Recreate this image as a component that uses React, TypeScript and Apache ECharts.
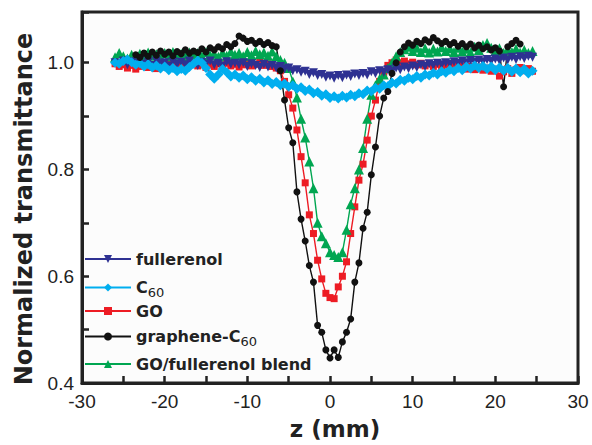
import React, { useEffect, useRef } from "react";
import * as echarts from "echarts";

// z positions (mm): -26 to 24.5, step 0.5
const zValues: number[] = Array.from({ length: 102 }, (_, i) => -26 + i * 0.5);

const fullerenol = [
  1.000, 0.998, 1.003, 0.996, 1.002, 0.999, 1.004, 0.997, 1.001, 0.995,
  1.003, 0.998, 1.000, 0.994, 1.002, 0.997, 1.001, 0.996, 1.003, 0.998,
  0.995, 1.001, 0.997, 1.003, 0.996, 0.999, 0.994, 1.002, 0.997, 0.999,
  0.996, 1.000, 0.993, 0.998, 0.995, 0.991, 0.997, 0.992, 0.995, 0.990,
  0.993, 0.988, 0.990, 0.985, 0.987, 0.982, 0.984, 0.978, 0.981, 0.976,
  0.978, 0.973, 0.975, 0.971, 0.976, 0.972, 0.977, 0.974, 0.979, 0.976,
  0.980, 0.977, 0.983, 0.980, 0.985, 0.982, 0.987, 0.984, 0.990, 0.987,
  0.992, 0.989, 0.994, 0.991, 0.996, 0.993, 0.998, 0.995, 0.999, 0.996,
  1.000, 0.997, 1.002, 0.999, 1.003, 1.000, 1.004, 1.001, 1.005, 1.002,
  1.006, 1.003, 1.007, 1.004, 1.009, 1.005, 1.010, 1.006, 1.011, 1.008,
  1.012, 1.010,
];

const c60 = [
  1.000, 0.998, 1.003, 1.006, 1.001, 0.996, 0.999, 0.993, 0.997, 0.991,
  0.995, 0.989, 0.993, 0.986, 0.990, 0.984, 0.988, 0.985, 0.992, 0.998,
  1.004, 1.000, 0.990, 0.978, 0.970, 0.978, 0.988, 0.982, 0.974, 0.978,
  0.972, 0.976, 0.969, 0.973, 0.966, 0.970, 0.963, 0.967, 0.960, 0.964,
  0.958, 0.961, 0.955, 0.958, 0.951, 0.954, 0.947, 0.950, 0.943, 0.945,
  0.938, 0.941, 0.934, 0.937, 0.933, 0.938, 0.935, 0.940, 0.937, 0.943,
  0.941, 0.948, 0.946, 0.953, 0.951, 0.958, 0.956, 0.963, 0.961, 0.968,
  0.966, 0.972, 0.969, 0.975, 0.972, 0.978, 0.976, 0.981, 0.978, 0.984,
  0.981, 0.987, 0.984, 0.990, 0.986, 0.993, 0.989, 0.995, 0.990, 0.994,
  0.988, 0.993, 0.986, 0.991, 0.985, 0.990, 0.983, 0.989, 0.982, 0.988,
  0.980, 0.985,
];

const go = [
  0.998, 0.993, 0.996, 0.990, 0.995, 0.988, 0.993, 0.996, 0.991, 0.994,
  0.989, 0.995, 0.992, 0.997, 0.990, 0.994, 0.998, 0.992, 0.996, 0.999,
  0.994, 0.997, 0.991, 0.996, 0.993, 0.998, 0.995, 0.999, 0.994, 0.997,
  0.992, 0.996, 0.999, 0.994, 0.997, 1.001, 0.995, 0.998, 0.993, 0.990,
  0.985, 0.965, 0.940, 0.915, 0.874, 0.824, 0.775, 0.715, 0.680, 0.630,
  0.595, 0.568, 0.560, 0.558, 0.580, 0.600, 0.627, 0.680, 0.730, 0.780,
  0.810, 0.855, 0.900, 0.930, 0.965, 0.982, 0.995, 1.000, 1.005, 1.000,
  1.003, 0.998, 1.001, 0.996, 0.999, 0.994, 0.998, 0.993, 0.997, 0.992,
  0.996, 0.991, 0.995, 0.990, 0.994, 0.988, 0.993, 0.987, 0.992, 0.986,
  0.990, 0.984, 0.988, 0.975, 0.983, 0.989, 0.980, 0.987, 0.991, 0.985,
  0.989, 0.984,
];

const grapheneC60: (number | null)[] = [
  null, null, null, null, null, 1.015, 1.010, 1.018, 1.012, 1.020,
  1.014, 1.022, 1.016, 1.020, 1.013, 1.021, 1.017, 1.024, 1.018, 1.022,
  1.019, 1.026, 1.020, 1.028, 1.024, 1.030, 1.026, 1.034, 1.030, 1.036,
  1.050, 1.046, 1.040, 1.042, 1.036, 1.040, 1.034, 1.038, 1.032, 1.030,
  0.985, 0.930, 0.878, 0.850, 0.758, 0.707, 0.666, 0.620, 0.589, 0.508,
  0.495, 0.462, 0.447, 0.462, 0.448, 0.477, 0.495, 0.520, 0.589, 0.625,
  0.690, 0.720, 0.790, 0.842, 0.900, 0.934, 0.946, 0.980, 1.000, 1.020,
  1.030, 1.037, 1.033, 1.040, 1.036, 1.043, 1.039, 1.047, 1.041, 1.036,
  1.040, 1.034, 1.038, 1.031, 1.036, 1.030, 1.035, 1.028, 1.033, 1.026,
  1.030, 1.024, 1.028, 1.022, 0.955, 1.030, 1.036, 1.042, 1.035, null,
  null, null,
];

const blend = [
  1.010, 1.018, 1.012, 1.008, 1.015, 1.010, 1.017, 1.011, 1.019, 1.013,
  1.016, 1.010, 1.018, 1.012, 1.020, 1.014, 1.017, 1.011, 1.019, 1.013,
  1.018, 1.012, 1.020, 1.014, 1.017, 1.011, 1.019, 1.013, 1.021, 1.015,
  1.018, 1.012, 1.020, 1.014, 1.022, 1.016, 1.019, 1.013, 1.021, 1.012,
  1.005, 1.000, 0.990, 0.965, 0.935, 0.895, 0.860, 0.815, 0.765, 0.700,
  0.675, 0.662, 0.645, 0.640, 0.636, 0.645, 0.687, 0.735, 0.765, 0.800,
  0.840, 0.895, 0.940, 0.958, 0.970, 0.978, 0.990, 1.000, 1.012, 1.020,
  1.025, 1.030, 1.022, 1.028, 1.020, 1.027, 1.019, 1.026, 1.021, 1.029,
  1.022, 1.027, 1.020, 1.028, 1.021, 1.026, 1.019, 1.030, 1.024, 1.033,
  1.037, 1.028, 1.022, 1.027, 1.018, 1.025, 1.020, 1.026, 1.019, 1.024,
  1.018, 1.022,
];

const xTickLabels = ["-30", "-20", "-10", "0", "10", "20", "30"];
const yTickLabels = ["0.4", "0.6", "0.8", "1.0"];

const FONT_LABEL = '"Liberation Sans", Arial, sans-serif';
const FONT_BOLD = '"DejaVu Sans", sans-serif';

const pairs = (vals: (number | null)[]) =>
  zValues.map((z, i) => [z, vals[i] === null ? null : vals[i]]);

export default function App() {
  const ref = useRef<HTMLDivElement>(null);
  useEffect(() => {
    document.body.style.margin = "0";
    if (!ref.current) return;
    const chart = echarts.init(ref.current, undefined, { renderer: "svg" });

    const mkSeries = (
      name: string,
      vals: (number | null)[],
      color: string,
      symbol: string,
      symbolSize: number,
      rotate = 0
    ) => ({
      name,
      type: "line",
      data: pairs(vals),
      symbol,
      symbolSize,
      symbolRotate: rotate,
      showAllSymbol: true,
      connectNulls: false,
      lineStyle: { color, width: 1.4 },
      itemStyle: { color },
      emphasis: { disabled: true },
    });

    const legendRows: [string, number][] = [
      ["fullerenol", 260],
      ["C60", 285],
      ["GO", 312],
      ["graphene-C60", 334],
      ["GO/fullerenol blend", 365],
    ];

    const legends = legendRows.map(([name, cy]) => ({
      data: [name],
      left: 84,
      top: cy - 9,
      padding: 0,
      orient: "vertical",
      itemWidth: 46,
      itemHeight: 10,
      selectedMode: false,
      formatter: (n: string) => {
        if (n === "C60") return "{n|C}{s|60}";
        if (n === "graphene-C60") return "{n|graphene-C}{s|60}";
        return "{n|" + n + "}";
      },
      textStyle: {
        color: "#222",
        rich: {
          n: {
            fontFamily: FONT_BOLD,
            fontWeight: "bold",
            fontSize: 16,
            lineHeight: 18,
            color: "#222",
          },
          s: {
            fontFamily: '"DejaVu Sans", sans-serif',
            fontSize: 13,
            lineHeight: 18,
            padding: [10, 0, 0, 0],
            color: "#222",
          },
        },
      },
    }));

    chart.setOption({
      animation: false,
      backgroundColor: "#fff",
      grid: {
        left: 82,
        right: 14,
        top: 12,
        bottom: 62,
        show: true,
        borderColor: "#222",
        borderWidth: 3,
        backgroundColor: "#fcfcfc",
      },
      legend: legends,
      xAxis: {
        type: "value",
        min: -30,
        max: 30,
        interval: 5,
        axisLine: { show: true, onZero: false, lineStyle: { color: "#222", width: 3 } },
        axisTick: { show: true, inside: true, length: 7, lineStyle: { color: "#222", width: 2.5 } },
        splitLine: { show: false },
        axisLabel: {
          margin: 9,
          color: "#222",
          fontFamily: FONT_LABEL,
          fontSize: 19,
          formatter: (v: number) => {
            const s = String(Math.round(v));
            return xTickLabels.includes(s) ? s : "";
          },
        },
      },
      yAxis: {
        type: "value",
        min: 0.4,
        max: 1.095,
        interval: 0.1,
        axisLine: { show: true, onZero: false, lineStyle: { color: "#222", width: 3 } },
        axisTick: { show: true, inside: true, length: 7, lineStyle: { color: "#222", width: 2.5 } },
        splitLine: { show: false },
        axisLabel: {
          margin: 8,
          color: "#222",
          fontFamily: FONT_LABEL,
          fontSize: 19,
          formatter: (v: number) => {
            const s = (Math.round(v * 10) / 10).toFixed(1);
            return Math.abs(v - parseFloat(s)) < 1e-6 && yTickLabels.includes(s) ? s : "";
          },
        },
      },
      graphic: [
        {
          type: "text",
          x: 24,
          y: 209,
          rotation: Math.PI / 2,
          style: {
            text: "Normalized transmittance",
            font: 'bold 24px "DejaVu Sans", sans-serif',
            fill: "#222",
            textAlign: "center",
            textVerticalAlign: "middle",
            align: "center",
            verticalAlign: "middle",
          },
        },
        {
          type: "text",
          x: 335,
          y: 429,
          style: {
            text: "z (mm)",
            font: 'bold 23px "DejaVu Sans", sans-serif',
            fill: "#222",
            textAlign: "center",
            textVerticalAlign: "middle",
            align: "center",
            verticalAlign: "middle",
          },
        },
      ],
      series: [
        mkSeries("GO", go, "#ed1c24", "rect", 7),
        mkSeries("GO/fullerenol blend", blend, "#00a651", "triangle", 10),
        mkSeries("fullerenol", fullerenol, "#2e3192", "triangle", 9, 180),
        mkSeries("C60", c60, "#00aeef", "diamond", 10),
        mkSeries("graphene-C60", grapheneC60, "#111111", "circle", 7),
      ],
    });
    return () => chart.dispose();
  }, []);
  return <div ref={ref} style={{ width: 592, height: 445 }} />;
}
